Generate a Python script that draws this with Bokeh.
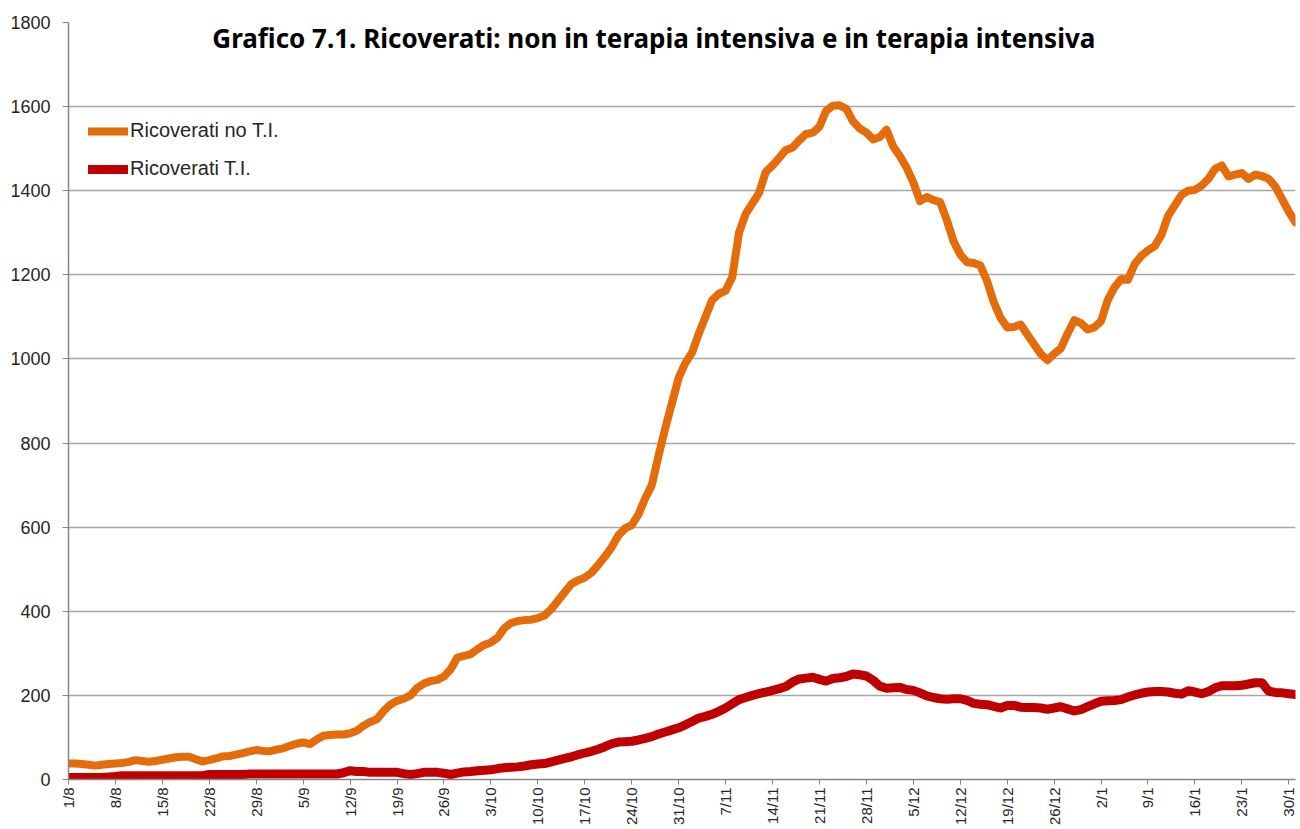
from bokeh.plotting import figure
from bokeh.models import FixedTicker, Legend, LegendItem, Label, ColumnDataSource
from bokeh.embed import file_html
from bokeh.resources import INLINE

# Daily values, 1 Aug -> 31 Jan (184 days)
ricoverati_no_ti = [
    38, 38, 37, 35, 33, 35, 37, 38, 39, 42,
    46, 44, 42, 44, 47, 50, 53, 54, 54, 48,
    43, 46, 50, 55, 56, 59, 63, 67, 70, 68,
    67, 71, 74, 80, 85, 88, 84, 95, 104, 106,
    107, 107, 110, 116, 128, 137, 143, 163, 178, 187,
    192, 200, 218, 228, 234, 237, 245, 262, 290, 294,
    298, 310, 320, 326, 337, 360, 372, 377, 379, 380,
    384, 390, 405, 425, 445, 465, 474, 480, 492, 510,
    530, 552, 580, 597, 605, 630, 668, 700, 770, 835,
    895, 955, 990, 1015, 1060, 1100, 1140, 1155, 1162, 1195,
    1300, 1345, 1370, 1395, 1445, 1460, 1478, 1497, 1503, 1520,
    1535, 1538, 1552, 1590, 1602, 1603, 1595, 1565, 1548, 1538,
    1522, 1528, 1545, 1505, 1482, 1455, 1420, 1375, 1385, 1378,
    1373, 1330, 1280, 1248, 1230, 1228, 1222, 1185, 1135, 1098,
    1075, 1076, 1082, 1058, 1035, 1012, 997, 1012, 1025, 1060,
    1092, 1085, 1070, 1075, 1090, 1140, 1170, 1190, 1188, 1225,
    1245, 1258, 1268, 1295, 1340, 1365, 1390, 1400, 1402, 1412,
    1428, 1452, 1460, 1434, 1438, 1442, 1428, 1438, 1435, 1428,
    1410, 1380, 1350, 1325,
]

ricoverati_ti = [
    5, 5, 5, 5, 5, 5, 6, 7, 9, 9,
    9, 9, 9, 9, 9, 9, 9, 9, 9, 9,
    9, 12, 12, 12, 12, 12, 12, 13, 13, 13,
    13, 13, 13, 13, 13, 13, 13, 13, 13, 13,
    13, 16, 21, 19, 19, 17, 17, 17, 17, 17,
    14, 12, 14, 17, 17, 17, 15, 12, 15, 18,
    19, 21, 22, 23, 26, 28, 29, 30, 32, 35,
    37, 38, 42, 46, 50, 54, 59, 63, 67, 72,
    78, 85, 89, 90, 91, 94, 98, 102, 108, 113,
    118, 123, 130, 138, 146, 150, 155, 162, 170, 180,
    190, 195, 200, 204, 208, 212, 216, 221, 232, 239,
    241, 243, 238, 234, 240, 242, 245, 251, 249, 246,
    236, 222, 217, 218, 219, 214, 212, 206, 199, 195,
    192, 191, 192, 192, 188, 181, 179, 178, 174, 170,
    176, 176, 172, 171, 171, 170, 167, 170, 173, 168,
    163, 166, 173, 180, 186, 187, 188, 190, 196, 201,
    205, 208, 209, 209, 208, 205, 203, 211, 208, 204,
    209, 218, 223, 223, 223, 224, 227, 230, 230, 210,
    207, 206, 204, 202,
]

tick_labels = ["1/8", "8/8", "15/8", "22/8", "29/8", "5/9", "12/9", "19/9", "26/9",
               "3/10", "10/10", "17/10", "24/10", "31/10", "7/11", "14/11", "21/11",
               "28/11", "5/12", "12/12", "19/12", "26/12", "2/1", "9/1", "16/1",
               "23/1", "30/1"]

series_names = ["Ricoverati no T.I.", "Ricoverati T.I."]
title_text = "Grafico 7.1. Ricoverati: non in terapia intensiva e in terapia intensiva"

assert len(ricoverati_no_ti) == 184 and len(ricoverati_ti) == 184

days = list(range(len(ricoverati_no_ti)))
src = ColumnDataSource(dict(day=days, no_ti=ricoverati_no_ti, ti=ricoverati_ti))

AXIS_COLOR = "#868686"
GRID_COLOR = "#A6A6A6"
FONT = "Liberation Sans"

p = figure(width=1298, height=828, output_backend="svg", toolbar_location=None,
           x_range=(0, len(days) - 1), y_range=(0, 1800),
           min_border_left=68, min_border_right=3, min_border_top=22, min_border_bottom=46)
p.outline_line_color = None
p.background_fill_color = "white"
p.border_fill_color = "white"

r1 = p.line("day", "no_ti", source=src, line_color="#E46C0A", line_width=8,
            line_join="round", line_cap="round")
r2 = p.line("day", "ti", source=src, line_color="#C00000", line_width=9,
            line_join="round", line_cap="round")

# axes
tick_pos = [7 * i for i in range(len(tick_labels))]
p.xaxis.ticker = FixedTicker(ticks=tick_pos)
p.xaxis.major_label_overrides = {t: l for t, l in zip(tick_pos, tick_labels)}
p.xaxis.major_label_orientation = 1.5708
p.xaxis.major_label_text_font = FONT
p.xaxis.major_label_text_font_size = "15px"
p.xaxis.major_label_text_color = "#262626"
p.xaxis.major_label_standoff = 3
p.xaxis.axis_line_color = AXIS_COLOR
p.xaxis.axis_line_width = 1.5
p.xaxis.major_tick_line_color = AXIS_COLOR
p.xaxis.major_tick_out = 5
p.xaxis.major_tick_in = 0
p.xaxis.minor_tick_line_color = None

p.yaxis.ticker = FixedTicker(ticks=list(range(0, 1801, 200)))
p.yaxis.major_label_text_font = FONT
p.yaxis.major_label_text_font_size = "18px"
p.yaxis.major_label_text_color = "#262626"
p.yaxis.major_label_standoff = 12
p.yaxis.axis_line_color = AXIS_COLOR
p.yaxis.axis_line_width = 1.5
p.yaxis.major_tick_line_color = AXIS_COLOR
p.yaxis.major_tick_out = 6
p.yaxis.major_tick_in = 0
p.yaxis.minor_tick_line_color = None

p.xgrid.grid_line_color = None
p.ygrid.ticker = FixedTicker(ticks=list(range(200, 1700, 200)))
p.ygrid.grid_line_color = GRID_COLOR
p.ygrid.grid_line_width = 1.5

# title inside plot area
p.add_layout(Label(x=87.3, y=1762, x_units="data", y_units="data",
                   text=title_text, text_font="Noto Sans", text_font_style="bold",
                   text_font_size="26px", text_color="#000000",
                   text_align="center", text_baseline="middle"))

legend = Legend(items=[LegendItem(label=series_names[0], renderers=[r1]),
                       LegendItem(label=series_names[1], renderers=[r2])],
                location=(20, 599), orientation="vertical")
legend.background_fill_alpha = 0
legend.border_line_alpha = 0
legend.padding = 0
legend.margin = 0
legend.glyph_width = 40
legend.glyph_height = 22
legend.label_height = 22
legend.spacing = 15
legend.label_standoff = 2
legend.label_text_font = FONT
legend.label_text_font_size = "20px"
legend.label_text_color = "#262626"
p.add_layout(legend)

open("out.html", "w").write(file_html(p, INLINE))
